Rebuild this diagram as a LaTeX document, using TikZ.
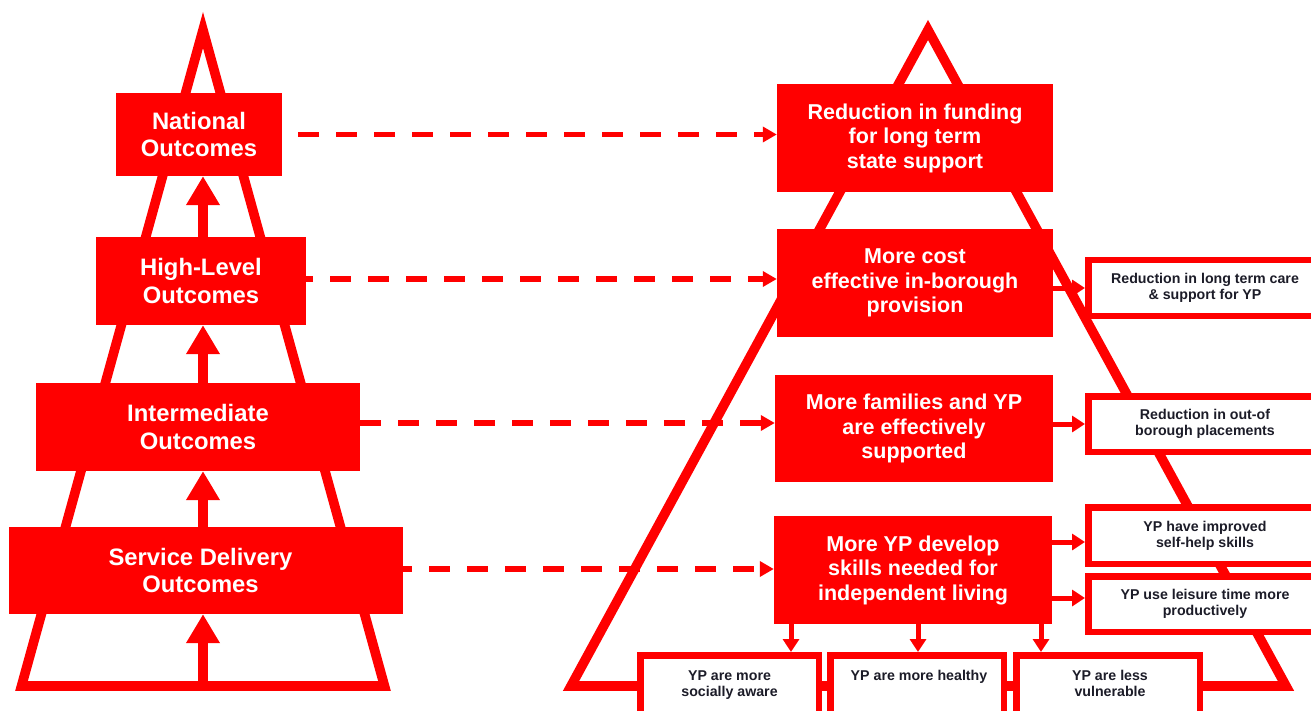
\documentclass[tikz,border=0pt]{standalone}
\usepackage{fontspec}
\setmainfont{Liberation Sans}
\usetikzlibrary{arrows.meta,calc}
\definecolor{pred}{RGB}{255,0,0}
\definecolor{ptxt}{RGB}{28,28,40}
\begin{document}
\begin{tikzpicture}[x=1pt,y=-1pt,
  pyr/.style={draw=pred, line width=9.6pt, line join=miter, miter limit=10},
  leftbox/.style={fill=pred, text=white, inner sep=0pt, align=center, font=\fontsize{23.8}{27.4}\selectfont\bfseries},
  rightbox/.style={fill=pred, text=white, inner sep=0pt, align=center, font=\fontsize{21.5}{24.5}\selectfont\bfseries, minimum width=276pt, minimum height=108pt},
  wbox/.style={draw=pred, fill=white, line width=6.5pt, inner sep=0pt, minimum width=233.5pt, minimum height=55.5pt, text=ptxt, align=center, font=\fontsize{14.2}{15.7}\selectfont\bfseries},
  bbox/.style={draw=pred, fill=white, line width=6.5pt, inner sep=0pt, minimum height=90pt},
  btxt/.style={text=ptxt, align=center, anchor=north, inner sep=0pt, font=\fontsize{14.2}{15.7}\selectfont\bfseries},
  uparrow/.style={draw=pred, line width=10pt, -{Triangle[width=32pt,length=29pt]}},
  dasharrow/.style={draw=pred, line width=5.5pt, dash pattern=on 21pt off 17pt, -{Triangle[width=15pt,length=14pt]}},
  smallarrow/.style={draw=pred, line width=5pt, -{Triangle[width=16pt,length=13pt]}}
]
\useasboundingbox (0,0) rectangle (1311,711);
% pyramids
\coordinate (LA) at (203,30);
\coordinate (LL) at (21.5,686);
\coordinate (LR) at (384.5,686);
\coordinate (RA) at (928,30);
\coordinate (RL) at (571,686);
\coordinate (RR) at (1286,686);
\draw[pyr] (LL) -- (LA) -- (LR) -- cycle;
\draw[pyr] (RL) -- (RA) -- (RR) -- cycle;
% left boxes
\node[leftbox, minimum width=166pt, minimum height=83pt] (nat) at (199,134.5) {National\\Outcomes};
\node[leftbox, minimum width=210pt, minimum height=88pt] (high) at (201,281) {High-Level\\Outcomes};
\node[leftbox, minimum width=324pt, minimum height=88pt] (inter) at (198,427) {Intermediate\\Outcomes};
\node[leftbox, minimum width=394pt, minimum height=87pt,
  label={[text=white, align=center, inner sep=0pt, xshift=-5.5pt, font=\fontsize{23.8}{27.4}\selectfont\bfseries]center:{Service Delivery\\Outcomes}}] (serv) at (206,570.5) {};
% right red boxes
\node[rightbox] (red1) at (915,138) {Reduction in funding\\for long term\\state support};
\node[rightbox] (red2) at (915,283) {More cost\\effective in-borough\\provision};
\node[rightbox, minimum width=278pt, minimum height=107pt] (red3) at (914,428.5) {More families and YP\\are effectively\\supported};
\node[rightbox, minimum width=278pt] (red4) at (913,570) {More YP develop\\skills needed for\\independent living};
% white boxes right
\node[wbox] (w1) at (1205,288) {Reduction in long term care\\\& support for YP};
\node[wbox] (w2) at (1205,424) {Reduction in out-of\\borough placements};
\node[wbox, minimum height=56.5pt] (w3) at (1205,535.5) {YP have improved\\self-help skills};
\node[wbox] (w4) at (1205,604) {YP use leisure time more\\productively};
% bottom boxes
\node[bbox, minimum width=178.5pt] (b1) at (729.5,700.25) {};
\node[bbox, minimum width=173.5pt] (b2) at (917,700.25) {};
\node[bbox, minimum width=183.5pt] (b3) at (1108,700.25) {};
\node[btxt] (t1) at (729.5,670.5) {YP are more\\socially aware};
\node[btxt] (t2) at (919,670.5) {YP are more healthy};
\node[btxt] (t3) at (1110,670.5) {YP are less\\vulnerable};
% vertical arrows left
\coordinate (LB) at (203,686);
\draw[uparrow] (LB) -- (LB |- serv.south);
\draw[uparrow] (LB |- serv.north) -- (LB |- inter.south);
\draw[uparrow] (LB |- inter.north) -- (LB |- high.south);
\draw[uparrow] (LB |- high.north) -- (LB |- nat.south);
% dashed arrows
\draw[dasharrow, dash phase=22pt] (nat.east) -- (nat.east -| red1.west);
\draw[dasharrow, dash phase=14pt] (high.east |- 0,279) -- (red2.west |- 0,279);
\draw[dasharrow, dash phase=0pt] (inter.east |- 0,423) -- (red3.west |- 0,423);
\draw[dasharrow, dash phase=12pt] (serv.east |- 0,569) -- (red4.west |- 0,569);
% small arrows
\draw[smallarrow] (red2.east |- w1.west) -- (w1.west);
\draw[smallarrow] (red3.east |- w2.west) -- (w2.west);
\draw[smallarrow] (red4.east |- 0,542) -- (w3.west |- 0,542);
\draw[smallarrow] (red4.east |- 0,598) -- (w4.west |- 0,598);
\draw[smallarrow] (791,0 |- red4.south) -- (791,0 |- b1.north);
\draw[smallarrow] (918,0 |- red4.south) -- (918,0 |- b2.north);
\draw[smallarrow] (1041,0 |- red4.south) -- (1041,0 |- b3.north);
\end{tikzpicture}
\end{document}
